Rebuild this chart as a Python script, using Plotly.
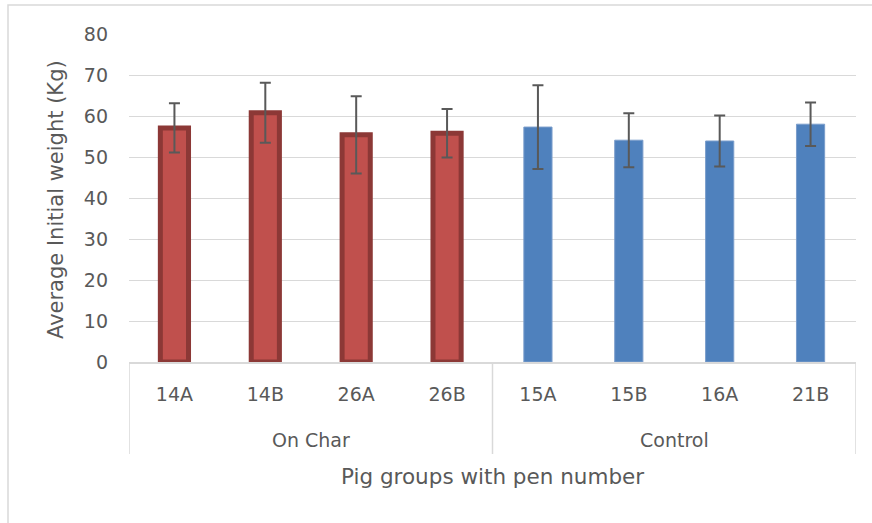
import plotly.graph_objects as go

# ---- data ----
group_names = ["On Char", "Control"]
onchar_pens = ["14A", "14B", "26A", "26B"]
onchar_mean = [57.1, 60.8, 55.4, 55.8]
onchar_err = [6.0, 7.3, 9.4, 5.9]
control_pens = ["15A", "15B", "16A", "21B"]
control_mean = [57.3, 54.1, 53.9, 58.0]
control_err = [10.2, 6.6, 6.2, 5.3]
y_ticks = [0, 10, 20, 30, 40, 50, 60, 70, 80]
y_title = "Average Initial weight (Kg)"
x_title = "Pig groups with pen number"

FONT = "DejaVu Sans"
TXT = "#595959"
GRID = "#D9D9D9"

all_pens = onchar_pens + control_pens

fig = go.Figure()
fig.add_trace(go.Bar(
    x=onchar_pens, y=onchar_mean, width=0.31,
    marker=dict(color="#C0504D", line=dict(color="#8C3836", width=5)),
    error_y=dict(type="data", array=onchar_err, color=TXT, thickness=2, width=5.5),
    name=group_names[0], showlegend=False,
))
fig.add_trace(go.Bar(
    x=control_pens, y=control_mean, width=0.31,
    marker=dict(color="#4F81BD", line=dict(color="#7A9DCB", width=1)),
    error_y=dict(type="data", array=control_err, color=TXT, thickness=2, width=5.5),
    name=group_names[1], showlegend=False,
))

W, H = 872, 523
L, R, T, B = 129, 16, 34, 161
pw, ph = W - L - R, H - T - B

def px_x(p):
    return (p - L) / pw

def px_y(p):
    return (H - B - p) / ph

# group divider lines below axis
bounds = [-0.5, len(onchar_pens) - 0.5, len(all_pens) - 0.5]
shapes = []
for b in bounds:
    shapes.append(dict(type="line", xref="x", yref="paper", x0=b, x1=b,
                       y0=0, y1=px_y(454), line=dict(color=GRID, width=1.5)))
# chart outer border
shapes.append(dict(type="rect", xref="paper", yref="paper",
                   x0=px_x(8), x1=px_x(900), y0=px_y(560), y1=px_y(5),
                   line=dict(color=GRID, width=1.5), layer="below"))

annotations = []
centers = [(len(onchar_pens) - 1) / 2, len(onchar_pens) + (len(control_pens) - 1) / 2]
for name, c in zip(group_names, centers):
    annotations.append(dict(text=name, x=c, xref="x", y=px_y(440), yref="paper",
                            showarrow=False, xanchor="center", yanchor="middle",
                            font=dict(family=FONT, size=19, color=TXT)))
annotations.append(dict(text=x_title, x=0.5, xref="paper", y=px_y(476), yref="paper",
                        showarrow=False, xanchor="center", yanchor="middle",
                        font=dict(family=FONT, size=21.5, color=TXT)))
annotations.append(dict(text=y_title, x=px_x(56), xref="paper", y=px_y(200), yref="paper",
                        showarrow=False, xanchor="center", yanchor="middle", textangle=-90,
                        font=dict(family=FONT, size=21, color=TXT)))

fig.update_layout(
    width=W, height=H,
    margin=dict(l=L, r=R, t=T, b=B, pad=0),
    paper_bgcolor="white", plot_bgcolor="white",
    barmode="overlay",
    shapes=shapes, annotations=annotations,
    font=dict(family=FONT, color=TXT),
    xaxis=dict(type="category", categoryorder="array", categoryarray=all_pens,
               range=[-0.5, len(all_pens) - 0.5],
               showline=True, linecolor=GRID, linewidth=1.5, showgrid=False,
               ticks="", tickfont=dict(family=FONT, size=19, color=TXT),
               ticklabelstandoff=14, zeroline=False),
    yaxis=dict(range=[0, 80], tickvals=y_ticks, showgrid=True, gridcolor=GRID, gridwidth=1.3,
               zeroline=False, showline=False, ticks="",
               tickfont=dict(family=FONT, size=19, color=TXT), ticklabelstandoff=20),
)

fig.write_html("out.html", config={"displayModeBar": False},
               post_script="document.body.style.margin='0';document.body.style.padding='0';")
